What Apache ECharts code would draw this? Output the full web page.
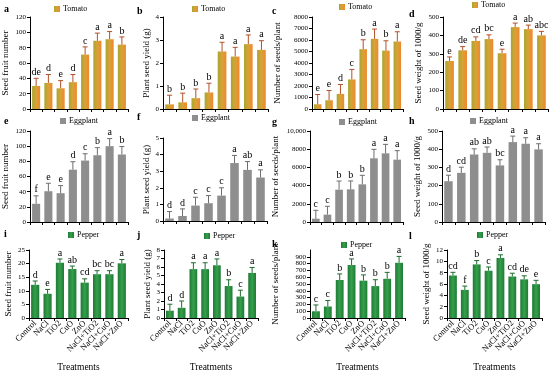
<!DOCTYPE html>
<html><head><meta charset="utf-8">
<script src="https://cdn.jsdelivr.net/npm/echarts@6/dist/echarts.min.js"></script>
<style>html,body{margin:0;padding:0;background:#fff}#c{width:550px;height:373px}</style>
</head><body><div id="c"></div>
<script>
const categories = ['Control','NaCl','TiO2','CuO','ZnO','NaCl+TiO2','NaCl+CuO','NaCl+ZnO'];

// Tomato
const tomatoFruit = [30,34,27,35,71,89,91,84];
const tomatoFruitErr = [10,11,10,10,10,10,10,10];
const tomatoFruitLet = ['de','d','e','d','c','a','a','b'];
const tomatoYield = [0.2,0.29,0.47,0.72,2.5,2.28,2.82,2.57];
const tomatoYieldErr = [0.4,0.4,0.4,0.4,0.4,0.4,0.4,0.4];
const tomatoYieldLet = ['b','b','b','b','a','a','a','a'];
const tomatoSeeds = [410,760,1310,2570,5200,6100,5080,5870];
const tomatoSeedsErr = [850,850,820,870,820,850,850,845];
const tomatoSeedsLet = ['e','e','d','c','b','a','b','a'];
const tomatoWeight = [261,319,370,380,303,445,434,400];
const tomatoWeightErr = [22,20,22,23,22,22,22,22];
const tomatoWeightLet = ['e','de','cd','bc','e','a','ab','abc'];

// Eggplant
const eggFruit = [24,40.6,38,69,81,88,100,89];
const eggFruitErr = [10.5,10.5,10,10.5,9,10,10,10.5];
const eggFruitLet = ['f','e','e','d','c','b','a','b'];
const eggYield = [0.15,0.3,0.93,1.07,1.53,3.49,3.08,2.62];
const eggYieldErr = [0.42,0.43,0.5,0.46,0.47,0.46,0.5,0.46];
const eggYieldLet = ['d','d','c','c','c','a','ab','a'];
const eggSeeds = [366,806,3550,3590,4140,7000,7545,6850];
const eggSeedsErr = [920,920,950,920,990,985,985,990];
const eggSeedsLet = ['c','c','b','b','b','a','a','a'];
const eggWeight = [224,270,371,380,311,439,430,399];
const eggWeightErr = [33,31,31,32,31,33,33,31];
const eggWeightLet = ['d','cd','ab','ab','bc','a','a','a'];

// Pepper
const pepFruit = [12.2,8.9,20.3,18.0,13.0,16.1,16.1,20.1];
const pepFruitErr = [1.4,1.6,1.4,1.1,1.4,1.3,1.3,1.4];
const pepFruitLet = ['d','e','a','ab','cd','bc','bc','a'];
const pepYield = [0.86,1.2,5.75,5.75,6.2,3.76,2.52,5.3];
const pepYieldErr = [0.76,0.8,0.75,0.75,0.75,0.74,0.75,0.64];
const pepYieldLet = ['d','d','a','a','a','b','c','a'];
const pepSeeds = [99,169,559,779,549,469,577,812];
const pepSeedsErr = [93,89,89,90,85,94,94,94];
const pepSeedsLet = ['c','c','b','a','b','b','b','a'];
const pepWeight = [7.5,4.96,9.46,8.34,10.6,7.32,6.82,5.97];
const pepWeightErr = [0.56,0.67,0.68,0.66,0.55,0.58,0.62,0.68];
const pepWeightLet = ['cd','f','b','c','a','cd','de','e'];

const yNames = ['Seed fruit number','Plant seed yield (g)','Number of seeds/plant','Seed weight of 1000/g'];
const panelLetters = ['a','b','c','d','e','f','g','h','i','j','k','l'];
const crops = ['Tomato','Eggplant','Pepper'];

const FONT = '"Liberation Serif", "Times New Roman", serif';

const tomatoColor = {type:'linear',x:0,y:0,x2:1,y2:0,colorStops:[{offset:0,color:'#a8a632'},{offset:0.5,color:'#d9a236'},{offset:1,color:'#f0872c'}]};
const eggColor = '#8e8e8e';
const pepColor = {type:'linear',x:0,y:0,x2:1,y2:0,colorStops:[{offset:0,color:'#1f7a35'},{offset:0.5,color:'#35a04c'},{offset:1,color:'#1f7a35'}]};
const cropColors = [tomatoColor, eggColor, pepColor];
const errColors = ['#b0502a','#6e6e6e','#1f6b30'];

const panels = [
  {v:tomatoFruit,e:tomatoFruitErr,l:tomatoFruitLet,max:120,int:20,grid:[29,17,99,92],leg:[54,5]},
  {v:tomatoYield,e:tomatoYieldErr,l:tomatoYieldLet,max:4,int:1,grid:[163,17,105,92],leg:[192,5]},
  {v:tomatoSeeds,e:tomatoSeedsErr,l:tomatoSeedsLet,max:8000,int:1000,grid:[312,17,91,92],leg:[339,3]},
  {v:tomatoWeight,e:tomatoWeightErr,l:tomatoWeightLet,max:500,int:100,grid:[443,17,105,92],leg:[472,1]},
  {v:eggFruit,e:eggFruitErr,l:eggFruitLet,max:120,int:20,grid:[28,131,100,91],leg:[60,117]},
  {v:eggYield,e:eggYieldErr,l:eggYieldLet,max:5,int:1,grid:[163,138,104,83],leg:[192,114]},
  {v:eggSeeds,e:eggSeedsErr,l:eggSeedsLet,max:10000,int:2000,grid:[310,131,93,91],leg:[339,118]},
  {v:eggWeight,e:eggWeightErr,l:eggWeightLet,max:500,int:100,grid:[442,131,103,91],leg:[470,117]},
  {v:pepFruit,e:pepFruitErr,l:pepFruitLet,max:25,int:5,grid:[29,250,99,71],leg:[68,231]},
  {v:pepYield,e:pepYieldErr,l:pepYieldLet,max:8,int:1,grid:[164,250,94,71],leg:[204,232]},
  {v:pepSeeds,e:pepSeedsErr,l:pepSeedsLet,max:1000,int:100,grid:[310,250,95,71],leg:[341,241]},
  {v:pepWeight,e:pepWeightErr,l:pepWeightLet,max:12,int:2,grid:[447,250,95,71],leg:[477,231]}
];
const letterPos = [[4,4],[137,6],[272,6],[409,9],[4,116],[137,112],[272,117],[409,116],[4,229],[137,230],[272,239],[409,231]];

const grid=[],xAxis=[],yAxis=[],series=[],legend=[],title=[];
panels.forEach((p,i)=>{
  const row = Math.floor(i/4), col = i%4;
  const crop = crops[row];
  grid.push({left:p.grid[0],top:p.grid[1],width:p.grid[2],height:p.grid[3],containLabel:false});
  xAxis.push({
    type:'category',gridIndex:i,data:categories,
    axisLine:{lineStyle:{color:'#000',width:1}},
    axisTick:{show:true,length:3,lineStyle:{color:'#000'}},
    axisLabel:{show:row===2,rotate:45,interval:0,fontSize:8.5,color:'#000',fontFamily:FONT,margin:4},
    name: row===2 ? 'Treatments' : '',
    nameLocation:'middle',nameGap:44,
    nameTextStyle:{fontSize:9.5,color:'#000',fontFamily:FONT}
  });
  yAxis.push({
    type:'value',gridIndex:i,min:0,max:p.max,interval:p.int,
    splitLine:{show:false},
    axisLine:{show:true,lineStyle:{color:'#000',width:1}},
    axisTick:{show:true,length:3,lineStyle:{color:'#000'}},
    axisLabel:{fontSize:7,color:'#000',fontFamily:FONT,margin:4,
      formatter: v => (p.max===10000 && v>=10000) ? '10,000' : String(v)},
    name:yNames[col],nameLocation:'middle',
    nameGap: (p.max>=1000 ? 30 : (p.max>=100 ? 20 : (p.max>=10?16:12))),
    nameTextStyle:{fontSize:9,color:'#000',fontFamily:FONT}
  });
  series.push({
    type:'bar',name:crop,xAxisIndex:i,yAxisIndex:i,data:p.v,barWidth:'66%',
    itemStyle:{color:cropColors[row]},
    emphasis:{disabled:true}
  });
  const errData = p.v.map((v,k)=>[k,v,v+p.e[k],p.l[k]]);
  series.push({
    type:'custom',name:'err'+i,xAxisIndex:i,yAxisIndex:i,data:errData,
    silent:true,z:5,
    renderItem:(params,api)=>{
      const x = api.value(0);
      const base = api.coord([x,api.value(1)]);
      const top = api.coord([x,api.value(2)]);
      const cap = 2.5;
      const d = p.l[params.dataIndex];
      return {type:'group',children:[
        {type:'line',shape:{x1:base[0],y1:base[1],x2:top[0],y2:top[1]},style:{stroke:errColors[row],lineWidth:1}},
        {type:'line',shape:{x1:top[0]-cap,y1:top[1],x2:top[0]+cap,y2:top[1]},style:{stroke:errColors[row],lineWidth:1}},
        {type:'text',style:{text:d,x:top[0],y:top[1]-1,align:'center',verticalAlign:'bottom',fontSize:10,fontFamily:FONT,fill:'#000'}}
      ]};
    }
  });
  legend.push({
    data:[crop],left:p.leg[0],top:p.leg[1],itemWidth:6,itemHeight:6,itemGap:2,icon:'rect',
    selectedMode:false,padding:0,
    textStyle:{fontSize:8,color:'#000',fontFamily:FONT,padding:[0,0,0,-2]}
  });
  title.push({text:panelLetters[i],left:letterPos[i][0],top:letterPos[i][1],padding:0,
    textStyle:{fontSize:10,fontWeight:'bold',color:'#000',fontFamily:FONT}});
});

const chart = echarts.init(document.getElementById('c'),null,{renderer:'canvas'});
chart.setOption({animation:false,backgroundColor:'#fff',title,legend,grid,xAxis,yAxis,series});
</script></body></html>
